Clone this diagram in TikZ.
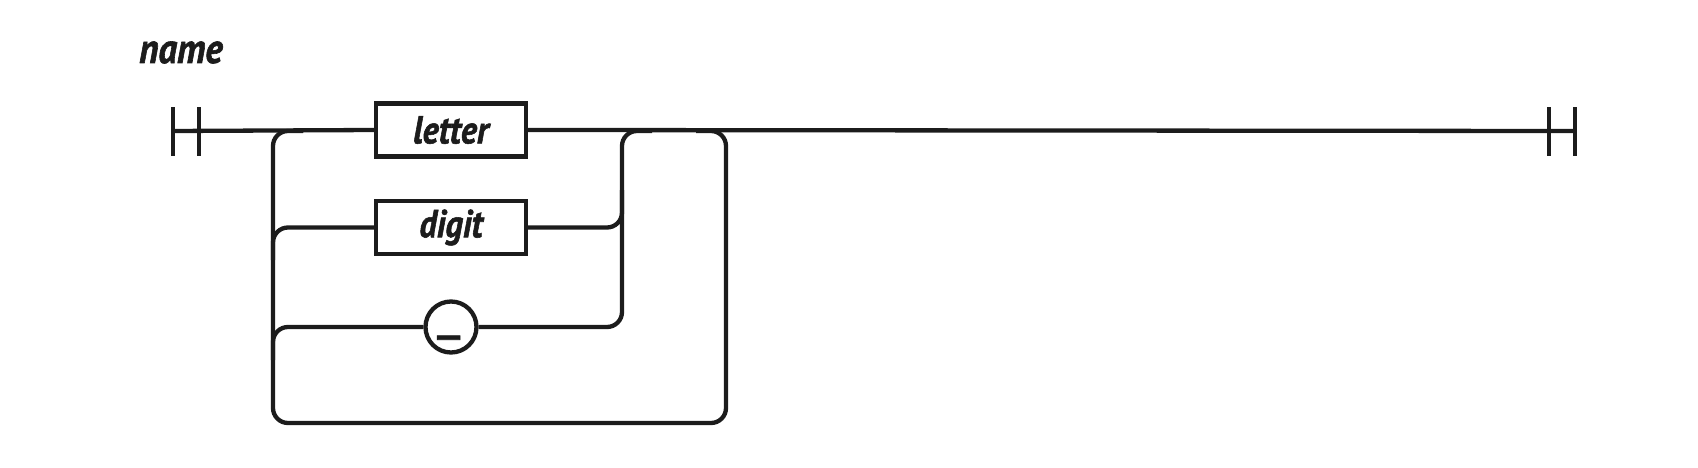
\documentclass[tikz,border=0pt]{standalone}
\usepackage{graphicx}
\usepackage{fontspec}
\newfontfamily\rrfont[FakeStretch=0.88,FakeBold=1.4]{PT Sans}
\definecolor{ink}{RGB}{28,28,28}
\begin{document}
\begin{tikzpicture}[x=1pt,y=-1pt,
  rail/.style={draw=ink,line width=4.3pt},
  termbox/.style={draw=ink,line width=4.3pt,minimum width=150pt,minimum height=53pt,inner sep=0pt,
    font=\rrfont\fontsize{39}{42}\selectfont\bfseries\itshape,text=ink},
  termcirc/.style={circle,draw=ink,line width=4.3pt,minimum size=51pt,inner sep=0pt,
    font=\rrfont\fontsize{39}{42}\selectfont\bfseries\itshape,text=ink},
  rr/.style={rail,rounded corners=15pt}]
\useasboundingbox (0,0) rectangle (1698,468);
\node[anchor=base west,inner sep=0pt,font=\rrfont\fontsize{42}{45}\selectfont\bfseries\itshape,text=ink] (title) at (139,63) {name};
\coordinate (s1) at (173,131);
\coordinate (s2) at (199,131);
\coordinate (e1) at (1549,131);
\coordinate (e2) at (1575,131);
\node[termbox] (letter) at (451,130) {letter};
\node[termbox] (digit) at (451,227.5) {digit};
\node[termcirc] (under) at (451,327) {};
\node[inner sep=0pt,anchor=base,font=\rrfont\fontsize{39}{42}\selectfont\bfseries\itshape,text=ink] (ulabel) at (451,331) {\scalebox{1.5}[1]{\_}};
\coordinate (L) at (273,131);
\coordinate (Ri) at (622,131);
\coordinate (Ro) at (726,131);
% start/end ticks
\draw[rail] ([yshift=-25pt]s1) -- ([yshift=24pt]s1);
\draw[rail] ([yshift=-25pt]s2) -- ([yshift=24pt]s2);
\draw[rail] ([yshift=-25pt]e1) -- ([yshift=24pt]e1);
\draw[rail] ([yshift=-25pt]e2) -- ([yshift=24pt]e2);
% main line
\draw[rail] (s1) -- (letter.west);
\draw[rail] (letter.east) -- (e2);
% outer loop
\draw[rr] ([xshift=30pt]L) -- (L) -- (273,423) -- (726,423) -- (Ro) -- ([xshift=-30pt]Ro);
% branches on left
\draw[rr] (273,260) -- (273,227.5) -- (digit.west);
\draw[rr] (273,360) -- (273,327) -- (under.west);
% inner join on right
\draw[rr] (digit.east) -- (622,227.5) -- (622,190);
\draw[rr] (under.east) -- (622,327) -- (Ri) -- ([xshift=30pt]Ri);
\end{tikzpicture}
\end{document}
